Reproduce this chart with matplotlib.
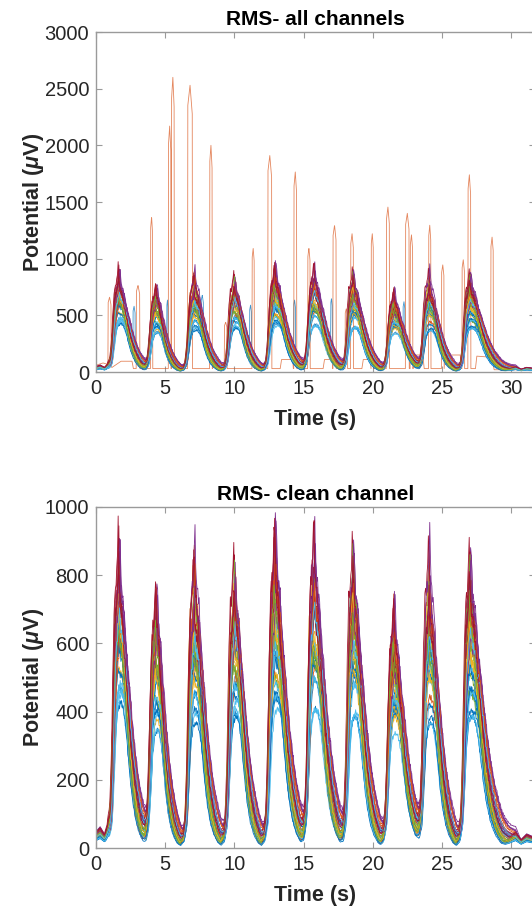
import numpy as np
import matplotlib
matplotlib.use('Agg')
import matplotlib.pyplot as plt

# ---------------- data ----------------
# clean-channel bursts
burst_peak_t = [1.66, 4.33, 7.10, 10.00, 12.92, 15.74, 18.58, 21.50, 24.07, 27.00]
burst_peak_max = [935, 803, 940, 890, 976, 970, 930, 741, 910, 900]
burst_peak_min = [420, 340, 360, 380, 400, 400, 380, 330, 360, 380]
burst_width = [1.00, 0.85, 0.95, 0.95, 1.05, 1.05, 1.0, 1.05, 0.95, 1.25]

# burst template, sharp (upper channels): seconds from peak, fraction of peak
sharp_t = [-1.0, -0.8, -0.62, -0.5, -0.38, -0.26, -0.16, -0.08, 0.0, 0.07, 0.15,
           0.25, 0.35, 0.45, 0.58, 0.72, 0.88, 1.05, 1.25, 1.5, 1.8, 2.2]
sharp_v = [0.0, 0.02, 0.08, 0.25, 0.55, 0.78, 0.80, 0.86, 1.0, 0.82, 0.78,
           0.74, 0.62, 0.55, 0.45, 0.35, 0.27, 0.20, 0.14, 0.08, 0.035, 0.0]
# burst template, broad (lower channels)
broad_t = [-1.0, -0.75, -0.55, -0.4, -0.25, -0.1, 0.1, 0.3, 0.5, 0.7, 0.9, 1.1,
           1.35, 1.65, 2.0, 2.3]
broad_v = [0.0, 0.03, 0.15, 0.45, 0.8, 0.95, 1.0, 0.97, 0.85, 0.65, 0.45, 0.3,
           0.17, 0.08, 0.02, 0.0]

# baseline level between bursts (uV)
baseline_t = [0.0, 0.3, 0.6, 0.9, 1.1, 29.3, 29.8, 30.3, 30.7, 31.1, 31.7]
baseline_v = [35, 45, 30, 40, 12, 12, 22, 35, 18, 30, 22]

# relative level of each clean channel inside the min..max burst envelope
channel_level = [0.10, 0.55, 0.40, 0.80, 0.45, 0.15, 0.85,
                 0.25, 0.35, 0.65, 0.60, 0.30, 0.05, 0.95,
                 0.02, 0.70, 0.50, 0.90, 0.60, 0.30, 0.70,
                 0.35, 0.45, 0.25, 0.70, 0.75, 0.20, 0.60,
                 0.18, 0.80, 0.55, 0.98, 0.40, 0.08, 0.78,
                 0.28, 0.62, 0.35, 0.65, 0.52, 0.40, 0.88]
burst_jitter = [0.0, 0.15, -0.12, 0.2, -0.05, 0.1, -0.18, 0.08, -0.1, 0.18,
                -0.15, 0.05, 0.12, -0.2, 0.02, -0.08, 0.16]
channel_decay = [1.0, 1.15, 0.9, 1.25, 0.95, 1.1, 0.85, 1.2, 1.0, 0.9, 1.3,
                 1.05, 0.95, 1.15, 0.88, 1.22, 1.0, 1.1, 0.92, 1.18, 1.05]
channel_shift_a = [0.0, 0.04, -0.03, 0.06, -0.05, 0.02, -0.02]
channel_shift_b = [0.0, -0.04, 0.03, 0.05, -0.02, 0.01]
ripple = [0.0, 0.05, -0.03, 0.06, -0.04, 0.02, 0.05, -0.03, 0.03, -0.06,
          0.04, -0.01, 0.06, -0.05, 0.01, 0.03, -0.04, 0.04, -0.02, 0.0,
          0.05, -0.05, 0.02, -0.02, 0.03, -0.04, 0.01]

# artefact channel (orange) pulses: start, end, height
orange_on = [0.88, 2.92, 3.95, 5.24, 5.46, 6.63, 8.22, 9.28, 11.28, 12.42, 14.30,
             15.30, 17.12, 18.00, 18.40, 19.88, 20.98, 22.36, 22.70, 24.03,
             24.96, 26.44, 26.87, 28.52]
orange_off = [1.08, 3.15, 4.08, 5.40, 5.64, 6.95, 8.38, 9.45, 11.42, 12.68, 14.48,
              15.45, 17.33, 18.15, 18.58, 20.02, 21.18, 22.60, 22.86, 24.17,
              25.12, 26.60, 27.05, 28.68]
orange_h = [660, 765, 1370, 2170, 2600, 2530, 2000, 440, 1090, 1910, 1765,
            1095, 1295, 560, 1220, 1220, 1455, 1400, 1210, 1295,
            945, 990, 1740, 1190]
orange_base_t = [0.0, 0.5, 0.85, 1.15, 1.8, 2.6, 2.7, 8.4, 8.45, 8.8, 8.85,
                 13.3, 13.4, 14.2, 14.25, 16.4, 16.5, 17.05, 17.1, 19.2, 19.3,
                 19.8, 19.85, 22.9, 23.0, 23.6, 23.7, 25.15, 25.2, 26.3, 26.4,
                 27.4, 27.5, 28.5, 28.75, 31.7]
orange_base_v = [60, 80, 70, 40, 95, 95, 30, 30, 100, 100, 30,
                 30, 110, 110, 30, 30, 110, 110, 30, 30, 110,
                 110, 30, 30, 150, 150, 30, 30, 150, 150, 30,
                 30, 140, 140, 20, 20]

# artefact channel (blue) pulses
blue_on = [2.68, 5.12, 7.60, 11.10, 14.28, 16.95, 22.18]
blue_off = [2.82, 5.20, 7.75, 11.22, 14.40, 17.06, 22.30]
blue_h = [580, 635, 680, 590, 635, 650, 620]

matlab_colors = ['#0072BD', '#D95319', '#EDB120', '#7E2F8E', '#77AC30',
                 '#4DBEEE', '#A2142F']

# ---------------- build traces ----------------
t = np.arange(0.0, 31.7, 0.05)
n_ch = len(channel_level)


def burst_trace(c, shift, rip_off, fixed_level=None):
    lev0 = channel_level[c % n_ch] if fixed_level is None else fixed_level
    y = np.interp(t, baseline_t, baseline_v) * (0.6 + 0.8 * lev0)
    rip = np.array([ripple[(i + rip_off) % len(ripple)] for i in range(len(t))])
    dec = channel_decay[c % len(channel_decay)]
    for k, (p, mx, mn, w) in enumerate(zip(burst_peak_t, burst_peak_max,
                                           burst_peak_min, burst_width)):
        if fixed_level is None:
            jit = burst_jitter[(3 * c + 5 * k) % len(burst_jitter)]
            level = min(1.0, max(0.0, lev0 + jit))
        else:
            level = fixed_level
        amp = mn + (mx - mn) * level
        d = t - p - shift
        u = np.where(d < 0, d, d / (w * dec))
        shape = level * np.interp(u, sharp_t, sharp_v, left=0, right=0) + \
            (1 - level) * np.interp(u, broad_t, broad_v, left=0, right=0)
        y = y + amp * shape * (1 + rip * (1 - 0.6 * shape))
    return y


clean = []
for c in range(n_ch):
    sh = channel_shift_a[c % 7] + channel_shift_b[(c // 7) % 6]
    clean.append(burst_trace(c, sh, 4 * c))


def pulse_trace(base_t, base_v, ons, offs, hs):
    kt, kv = [], []
    for bt, bv in zip(base_t, base_v):
        inside = any(on - 0.03 <= bt <= off + 0.03 for on, off in zip(ons, offs))
        if not inside:
            kt.append(bt)
            kv.append(bv)
    for on, off, h in zip(ons, offs, hs):
        b0 = np.interp(on, base_t, base_v)
        b1 = np.interp(off, base_t, base_v)
        kt += [on - 0.02, on, (on + off) / 2, off, off + 0.02]
        kv += [b0, 0.93 * h, h, 0.9 * h, b1]
    order = np.argsort(kt)
    tt = np.arange(0.0, 31.7, 0.01)
    return tt, np.interp(tt, np.array(kt)[order], np.array(kv)[order])


to, orange = pulse_trace(orange_base_t, orange_base_v, orange_on, orange_off, orange_h)
blue_base = burst_trace(0, 0.02, 11, fixed_level=0.03)
tb, blue_sp = pulse_trace([0.0, 31.7], [0.0, 0.0], blue_on, blue_off, blue_h)
blue_art = np.maximum(np.interp(tb, t, blue_base), blue_sp)

# ---------------- plotting ----------------
plt.rcParams['font.family'] = ['Liberation Sans', 'DejaVu Sans']
plt.rcParams['mathtext.fontset'] = 'custom'
plt.rcParams['mathtext.it'] = 'Liberation Sans:bold:italic'
plt.rcParams['mathtext.rm'] = 'Liberation Sans:bold'

W, H = 532, 911
fig = plt.figure(figsize=(W / 100, H / 100), dpi=100)
left = 96 / W
width = 439 / W
ax1 = fig.add_axes([left, (H - 372) / H, width, 340 / H])
ax2 = fig.add_axes([left, (H - 848) / H, width, 341 / H])

lw = 0.6
ax1.plot(tb, blue_art, color='#0072BD', lw=lw, alpha=0.75)
ax1.plot(to, orange, color='#D95319', lw=lw, alpha=0.7)
for c, y in enumerate(clean):
    ax1.plot(t, y, color=matlab_colors[c % 7], lw=lw)
for c, y in enumerate(clean):
    ax2.plot(t, y, color=matlab_colors[c % 7], lw=lw)

spine_col = '#9a9a9a'
txt_col = '#262626'
for ax, ymax, ystep, title in [(ax1, 3000, 500, 'RMS- all channels'),
                               (ax2, 1000, 200, 'RMS- clean channel')]:
    ax.set_xlim(0, 31.7)
    ax.set_ylim(0, ymax)
    ax.set_xticks(np.arange(0, 31, 5))
    ax.set_yticks(np.arange(0, ymax + 1, ystep))
    ax.tick_params(direction='in', top=True, right=True, length=4, width=0.8,
                   color=spine_col, labelsize=14.5, labelcolor=txt_col, pad=5)
    for s in ax.spines.values():
        s.set_color(spine_col)
        s.set_linewidth(1.0)
    ax.set_title(title, fontsize=15, fontweight='bold', color='black', pad=5)
    ax.set_xlabel('Time (s)', fontsize=15.5, fontweight='bold', color=txt_col,
                  labelpad=8)
    ax.set_ylabel(r'Potential ($\mu$V)', fontsize=15.5, fontweight='bold',
                  color=txt_col)
    ax.yaxis.set_label_coords(-0.113, 0.5)

fig.savefig('out.png', dpi=100)
